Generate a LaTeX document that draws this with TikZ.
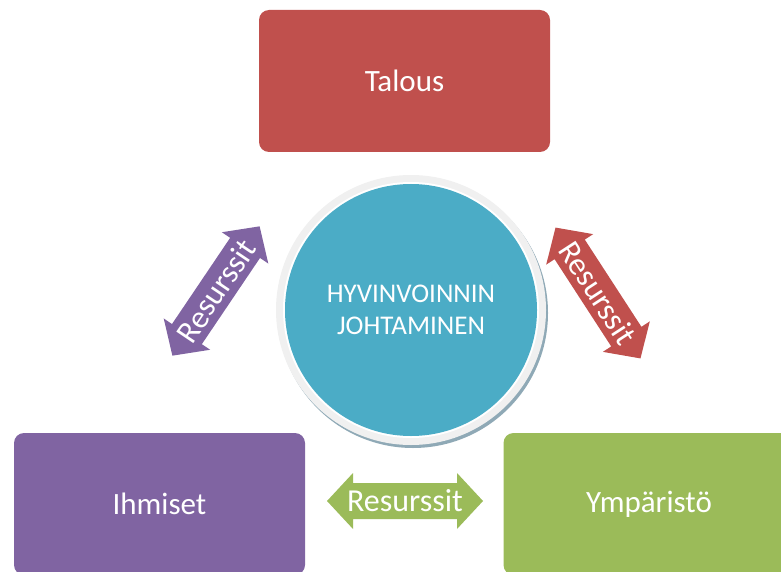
\documentclass[tikz,border=0pt]{standalone}
\usepackage{fontspec}
\setmainfont{Carlito}
\definecolor{talousred}{HTML}{C0504D}
\definecolor{ihmisetpurple}{HTML}{8064A2}
\definecolor{ymparistogreen}{HTML}{9BBB59}
\definecolor{johtaminenblue}{HTML}{4BACC6}
\definecolor{shadowblue}{HTML}{8FA9B6}

\begin{document}
\begin{tikzpicture}[x=1pt, y=-1pt,
    box/.style={rounded corners=10pt, minimum width=291pt, minimum height=142pt,
        text=white, font=\fontsize{31}{37}\selectfont},
    resarrow/.pic={
        \fill[pic actions] (-78,0) -- (-52,-28) -- (-52,-18) -- (52,-18) -- (52,-28)
            -- (78,0) -- (52,28) -- (52,18) -- (-52,18) -- (-52,28) -- cycle;
    },
    restext/.style={text=white, inner sep=0pt, font=\fontsize{32}{38}\selectfont}]
    \useasboundingbox (0,0) rectangle (781,572);
    % boxes
    \node[box, fill=talousred] (talous) at (404.5,81) {Talous};
    \node[box, fill=ihmisetpurple] (ihmiset) at (159.5,504) {Ihmiset};
    \node[box, fill=ymparistogreen] (ymparisto) at (649,504) {Ympäristö};
    % circle with ring and shadow
    \fill[shadowblue] (413,313) circle (135pt);
    \fill[gray!12] (411,310) circle (135pt);
    \fill[white] (411,310) circle (128pt);
    \node[circle, fill=johtaminenblue, minimum size=252pt, text=white, align=center,
        font=\fontsize{27}{32}\selectfont] (johtaminen) at (411,310)
        {HYVINVOINNIN\\JOHTAMINEN};
    % resource arrows
    \pic[fill=ihmisetpurple, rotate=56] at (216,291) {resarrow};
    \node[restext, rotate=56] (resvasen) at (216,291) {Resurssit};
    \pic[fill=talousred, rotate=-57] at (598,293) {resarrow};
    \node[restext, rotate=-57] (resoikea) at (598,293) {Resurssit};
    \pic[fill=ymparistogreen] at (405,501) {resarrow};
    \node[restext] (resala) at (405,501) {Resurssit};
\end{tikzpicture}
\end{document}
